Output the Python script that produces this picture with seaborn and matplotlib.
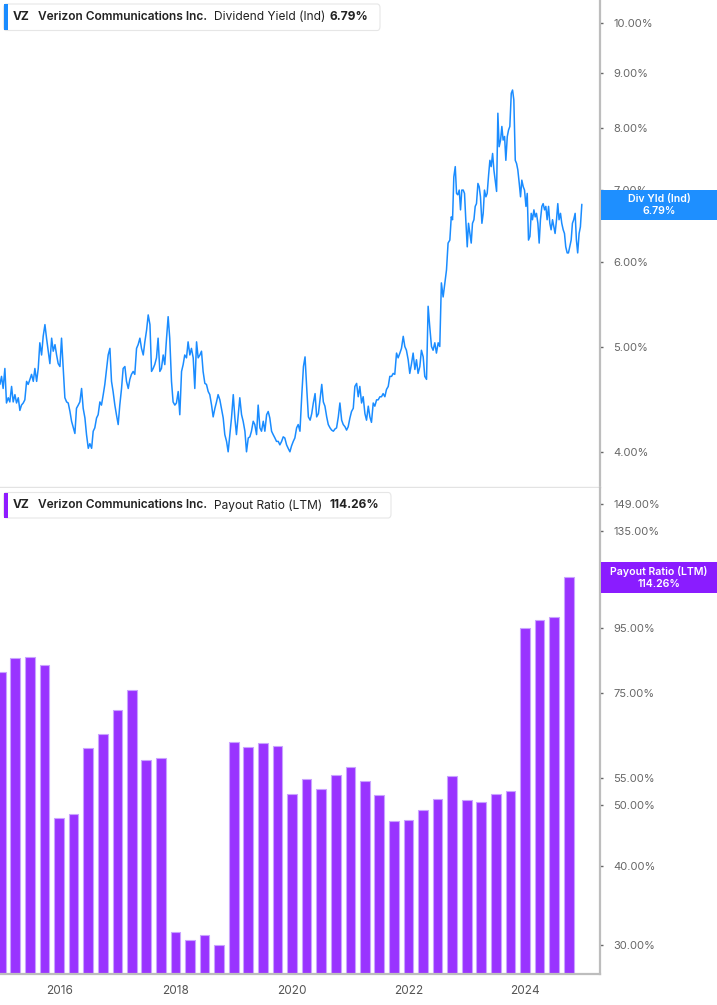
import numpy as np
import pandas as pd
import matplotlib
matplotlib.use("Agg")
import matplotlib.pyplot as plt
import matplotlib.ticker as mticker
from matplotlib.patches import FancyBboxPatch, Rectangle
import seaborn as sns

# ---------------- data ----------------
ticker = "VZ"
company = "Verizon Communications Inc."
yield_label = "Dividend Yield (Ind)"
payout_label = "Payout Ratio (LTM)"
yield_last = "6.79%"
payout_last = "114.26%"

# Dividend yield (%), in four consecutive stretches
yield_seg1_span = ("2014-12-25", "2017-07-23")
yield_seg1 = [4.62, 4.70, 4.58, 4.78, 4.44, 4.49, 4.45, 4.60, 4.45, 4.52,
              4.44, 4.49, 4.37, 4.42, 4.44, 4.47, 4.65, 4.62, 4.67, 4.72,
              4.65, 4.78, 4.65, 4.78, 5.05, 4.92, 5.12, 5.25, 5.10, 4.96,
              4.83, 5.10, 4.96, 5.03, 4.92, 4.83, 4.80, 5.10, 4.78, 4.49,
              4.45, 4.44, 4.36, 4.27, 4.21, 4.16, 4.39, 4.42, 4.45, 4.58,
              4.39, 4.30, 4.15, 4.03, 4.07, 4.03, 4.18, 4.21, 4.30, 4.33,
              4.45, 4.42, 4.52, 4.62, 4.78, 4.92, 4.99, 4.65, 4.55, 4.42,
              4.33, 4.24, 4.42, 4.58, 4.78, 4.80, 4.65, 4.58, 4.67, 4.72,
              4.75, 4.72, 4.99, 5.03, 5.10, 4.99, 4.92, 5.06, 5.19, 5.36,
              5.25]
yield_seg2_span = ("2017-08-02", "2020-02-18")
yield_seg2 = [4.75, 4.78, 4.82, 4.89, 5.10, 4.75, 4.78, 4.92, 4.82, 5.10,
              5.34, 5.10, 4.65, 4.45, 4.42, 4.44, 4.55, 4.33, 4.75, 4.82,
              4.92, 4.89, 5.06, 4.92, 4.99, 4.89, 4.58, 5.06, 4.89, 4.92,
              4.96, 4.75, 4.63, 4.62, 4.55, 4.52, 4.42, 4.31, 4.39, 4.45,
              4.52, 4.47, 4.39, 4.30, 4.15, 4.09, 4.00, 4.15, 4.30, 4.52,
              4.30, 4.15, 4.33, 4.49, 4.33, 4.27, 4.18, 4.00, 4.12, 4.13,
              4.18, 4.27, 4.24, 4.15, 4.42, 4.21, 4.18, 4.27, 4.18, 4.33,
              4.36, 4.30, 4.18, 4.15, 4.12, 4.09, 4.09, 4.06, 4.09, 4.13,
              4.12, 4.06, 4.03, 4.00, 4.05, 4.09, 4.12, 4.21, 4.24, 4.18]
yield_seg3_span = ("2020-03-01", "2022-09-15")
yield_seg3 = [4.53, 4.80, 4.90, 4.57, 4.31, 4.28, 4.34, 4.44, 4.53, 4.31,
              4.34, 4.47, 4.62, 4.45, 4.41, 4.31, 4.24, 4.21, 4.19, 4.18,
              4.20, 4.21, 4.31, 4.44, 4.28, 4.24, 4.22, 4.19, 4.22, 4.30,
              4.36, 4.39, 4.60, 4.63, 4.50, 4.60, 4.44, 4.50, 4.34, 4.28,
              4.41, 4.31, 4.26, 4.44, 4.41, 4.47, 4.47, 4.50, 4.50, 4.53,
              4.50, 4.57, 4.60, 4.70, 4.70, 4.73, 4.72, 4.94, 4.89, 4.94,
              4.99, 5.12, 5.01, 4.97, 4.87, 4.73, 4.83, 4.94, 4.77, 4.87,
              4.73, 4.80, 4.97, 4.90, 4.70, 4.67, 5.46, 5.23, 5.01, 4.97,
              5.05, 4.94, 5.05, 5.01, 5.74, 5.57, 5.72, 5.90, 6.25, 6.29]
yield_seg4_span = ("2022-09-24", "2024-12-21")
yield_seg4 = [6.61, 6.57, 7.20, 7.36, 6.95, 6.93, 7.00, 6.71, 7.00, 7.00,
              6.95, 6.57, 6.20, 6.52, 6.38, 6.25, 6.52, 6.57, 6.76, 6.80,
              7.10, 7.05, 6.90, 6.52, 6.66, 7.00, 6.90, 6.95, 7.23, 7.46,
              7.36, 7.57, 7.31, 7.15, 6.98, 8.25, 7.68, 7.79, 8.02, 7.79,
              7.85, 7.46, 7.85, 7.96, 8.02, 8.61, 8.67, 8.49, 7.46, 7.41,
              7.31, 7.10, 6.90, 7.15, 7.05, 7.00, 6.76, 6.95, 6.29, 6.34,
              6.66, 6.57, 6.71, 6.61, 6.66, 6.52, 6.25, 6.57, 6.76, 6.80,
              6.71, 6.76, 6.57, 6.76, 6.52, 6.43, 6.57, 6.47, 6.38, 6.57,
              6.80, 6.57, 6.66, 6.52, 6.43, 6.38, 6.20, 6.12, 6.12, 6.20,
              6.29, 6.52, 6.57, 6.66, 6.29, 6.12, 6.38, 6.47, 6.79]

# Payout ratio (LTM, %) by fiscal quarter end
payout_dates = pd.date_range("2014-12-31", periods=40, freq="QE")
payout_vals = [81.0, 85.1, 85.5, 83.0, 47.7, 48.3, 61.4, 64.6, 70.5, 75.8,
               58.8, 59.2, 31.45, 30.55, 31.08, 30.0, 62.8, 61.6, 62.5, 61.9,
               52.0, 54.8, 52.9, 55.6, 57.4, 54.5, 51.7, 47.1, 47.3, 49.1,
               51.1, 55.5, 50.9, 50.5, 51.9, 52.6, 94.9, 97.9, 98.9, 114.26]

yield_ticks = [4, 5, 6, 7, 8, 9, 10]
payout_ticks = [30, 40, 50, 55, 75, 95, 135, 149]
year_ticks = [2016, 2018, 2020, 2022, 2024]


def decimal_year(dates):
    d = pd.DatetimeIndex(dates)
    return np.asarray(d.year + (d.dayofyear - 1) / (365 + d.is_leap_year.astype(int)), dtype=float)


segs = [(yield_seg1_span, yield_seg1), (yield_seg2_span, yield_seg2),
        (yield_seg3_span, yield_seg3), (yield_seg4_span, yield_seg4)]
line_x = np.concatenate([decimal_year(pd.date_range(s, e, periods=len(v))) for (s, e), v in segs])
line_y = np.concatenate([np.asarray(v, dtype=float) for _, v in segs])
bar_x = decimal_year(payout_dates)

df_line = pd.DataFrame({"year": line_x, "yield": line_y})
df_bar = pd.DataFrame({"year": bar_x, "payout": payout_vals})

# ---------------- style ----------------
sns.set_theme(style="white")
plt.rcParams["font.family"] = ["Inter", "DejaVu Sans"]

W, H = 717, 1005
fig = plt.figure(figsize=(W / 100, H / 100), dpi=100)
fig.patch.set_facecolor("white")

def fx(x):
    return x / W

def fy(y):
    return 1 - y / H

plot_right = 600
ax1 = fig.add_axes([0, fy(487), fx(plot_right), fy(0) - fy(487)])
ax2 = fig.add_axes([0, fy(974), fx(plot_right), fy(488) - fy(974)])

BLUE = "#1a8cff"
PURPLE = "#9933ff"
AXIS_GRAY = "#bdbdbd"
TICK_TXT = "#666666"

xlim = (2014.982, 2025.282)

# top: dividend yield line
ax1.set_yscale("log")
sns.lineplot(data=df_line, x="year", y="yield", ax=ax1, color=BLUE,
             linewidth=1.1, estimator=None, sort=False)
ax1.set_xlim(*xlim)
ax1.set_ylim(3.71, 10.51)

# bottom: payout ratio bars
ax2.set_yscale("log")
sns.barplot(data=df_bar, x="year", y="payout", ax=ax2, native_scale=True,
            color=PURPLE, saturation=1, width=0.67, errorbar=None,
            edgecolor="#c9a3ff", linewidth=0.8)
ax2.set_xlim(*xlim)
ax2.set_ylim(27.0, 158.1)

for ax, ticks in ((ax1, yield_ticks), (ax2, payout_ticks)):
    ax.set_xlabel("")
    ax.set_ylabel("")
    ax.set_facecolor("white")
    ax.yaxis.tick_right()
    ax.yaxis.set_major_locator(mticker.FixedLocator(ticks))
    ax.yaxis.set_minor_locator(mticker.NullLocator())
    ax.yaxis.set_major_formatter(mticker.FuncFormatter(lambda v, p: f"{v:.2f}%"))
    ax.tick_params(axis="y", which="major", length=2.5, width=1, color="#666666",
                   pad=7, labelsize=8, labelcolor=TICK_TXT, direction="out")
    ax.spines["left"].set_visible(False)
    ax.spines["top"].set_visible(False)
    ax.spines["right"].set_color(AXIS_GRAY)
    ax.spines["right"].set_linewidth(1.6)
    ax.grid(False)

ax1.set_xticks([])
ax1.spines["bottom"].set_color("#e3e3e3")
ax1.spines["bottom"].set_linewidth(1.0)

ax2.xaxis.set_major_locator(mticker.FixedLocator(year_ticks))
ax2.xaxis.set_minor_locator(mticker.NullLocator())
ax2.xaxis.set_major_formatter(mticker.FuncFormatter(lambda v, p: f"{int(round(v))}"))
ax2.tick_params(axis="x", length=5, width=1, color="#999999", pad=3,
                labelsize=8.5, labelcolor="#555555", direction="out")
ax2.spines["bottom"].set_color(AXIS_GRAY)
ax2.spines["bottom"].set_linewidth(1.6)

# ---------------- legend boxes (top-left) ----------------
def legend_box(y0, y1, x1, color, metric, value):
    box = FancyBboxPatch((fx(3.5), fy(y1)), fx(x1) - fx(3.5), fy(y0) - fy(y1),
                         boxstyle="round,pad=0,rounding_size=0.004",
                         transform=fig.transFigure, facecolor="white",
                         edgecolor="#e6e6e6", linewidth=0.8, zorder=5)
    fig.add_artist(box)
    bar = Rectangle((fx(3.5), fy(y1)), fx(7.5) - fx(3.5), fy(y0) - fy(y1),
                    transform=fig.transFigure, facecolor=color, edgecolor="none", zorder=6)
    fig.add_artist(bar)
    yc = fy((y0 + y1) / 2)
    kw = dict(va="center", ha="left", fontsize=8.6, color="#222222", zorder=7)
    fig.text(fx(13), yc, ticker, fontweight="bold", **kw)
    fig.text(fx(38), yc, company, fontweight="semibold", **kw)
    fig.text(fx(214), yc, metric, fontweight="normal", **kw)
    fig.text(fx(330), yc, value, fontweight="bold", **kw)

legend_box(4, 30.5, 380, BLUE, yield_label, yield_last)
legend_box(492.5, 518, 391, "#8f1cff", payout_label, payout_last)

# ---------------- right value tags ----------------
def value_tag(y0, y1, color, name, value):
    r = Rectangle((fx(601), fy(y1)), fx(W) - fx(601), fy(y0) - fy(y1),
                  transform=fig.transFigure, facecolor=color, edgecolor="none", zorder=8)
    fig.add_artist(r)
    xc = fx((601 + W) / 2)
    h = y1 - y0
    fig.text(xc, fy(y0 + h * 0.30), name, ha="center", va="center", fontsize=7.6,
             color="white", fontweight="semibold", zorder=9)
    fig.text(xc, fy(y0 + h * 0.70), value, ha="center", va="center", fontsize=7.6,
             color="white", fontweight="semibold", zorder=9)

value_tag(190, 220, "#1e8fff", "Div Yld (Ind)", yield_last)
value_tag(562, 593, "#8a1cff", "Payout Ratio (LTM)", payout_last)

fig.savefig("out.png", dpi=100, facecolor="white")
